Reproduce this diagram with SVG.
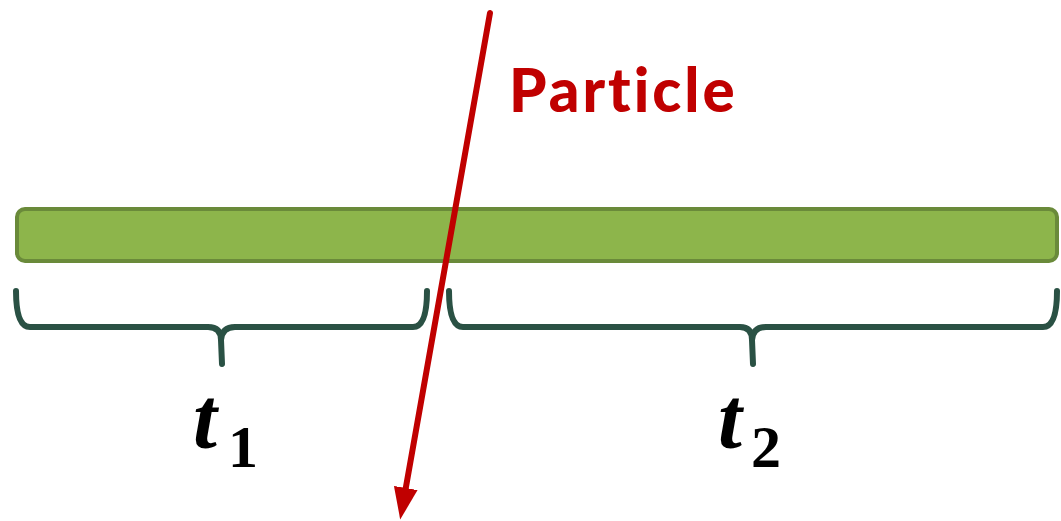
<svg xmlns="http://www.w3.org/2000/svg" width="1061" height="521" viewBox="0 0 1061 521">
<style>
.brace{fill:none;stroke:#2a5144;stroke-width:6;stroke-linecap:round;stroke-linejoin:round}
.t{font-family:"Liberation Serif",serif;font-weight:bold;fill:#000}
</style>
<defs>
<marker id="ah" markerWidth="33" markerHeight="24" refX="1" refY="12" orient="auto" markerUnits="userSpaceOnUse">
<path d="M0,0 L32,12 L0,24 Z" fill="#c00000"/>
</marker>
</defs>
<g id="bar">
<rect x="17" y="209" width="1040" height="52" rx="8" fill="#8db54b" stroke="#6a8a3a" stroke-width="4"/>
</g>
<g id="brace1">
<path class="brace" d="M16,291 Q16,327 30,327 L208,327 Q221,327 221,340 L222,364 M221,340 Q222,327 235,327 L413,327 Q427,327 427,291"/>
</g>
<g id="brace2">
<path class="brace" d="M449,291 Q449,327 463,327 L740,327 Q752,327 752,340 L753,364 M752,340 Q753,327 766,327 L1043,327 Q1057,327 1057,291"/>
</g>
<g id="label-t1">
<text class="t" x="193" y="448" font-size="86" font-style="italic">t</text>
<text class="t" x="228" y="467" font-size="60">1</text>
</g>
<g id="label-t2">
<text class="t" x="718" y="448" font-size="86" font-style="italic">t</text>
<text class="t" x="751" y="467" font-size="60">2</text>
</g>
<g id="particle-label">
<text x="509" y="112" font-family="Lato, 'Open Sans', sans-serif" font-weight="900" font-size="60" letter-spacing="3" style="font-variant-ligatures:none" fill="#c00000">Particle</text>
</g>
<g id="connectors">
<line x1="490" y1="13" x2="405.6" y2="489" stroke="#c00000" stroke-width="6" stroke-linecap="round" marker-end="url(#ah)"/>
</g>
</svg>
